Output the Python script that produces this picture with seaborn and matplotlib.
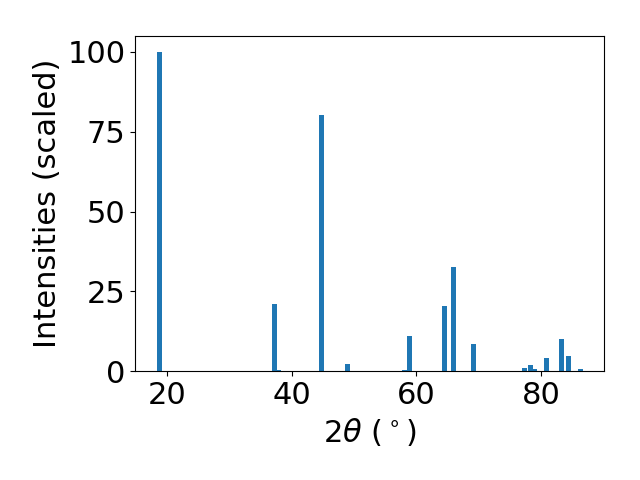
import matplotlib
matplotlib.use("Agg")
import matplotlib.pyplot as plt
import seaborn as sns

# XRD peak positions (2theta, degrees) and scaled intensities
two_theta = [18.75, 37.23, 37.95, 44.79, 48.97, 58.13, 58.94, 64.57, 66.00,
             69.20, 77.27, 78.23, 79.00, 80.80, 83.20, 84.40, 86.30]
intensity = [100.0, 21.0, 0.3, 80.3, 2.3, 0.3, 11.0, 20.4, 32.6,
             8.5, 1.0, 1.9, 0.6, 4.1, 10.0, 4.7, 0.6]

sns.set_style("ticks", rc={
    "axes.edgecolor": "black",
    "xtick.color": "black",
    "ytick.color": "black",
    "axes.labelcolor": "black",
    "text.color": "black",
})
plt.rcParams["font.family"] = ["DejaVu Sans"]
plt.rcParams["font.size"] = 22

fig, ax = plt.subplots(figsize=(6.4, 4.8), dpi=100)
ax.bar(two_theta, intensity, width=0.8, color="#1f77b4", linewidth=0)
ax.set_yticks([0, 25, 50, 75, 100])
ax.set_xticks([20, 40, 60, 80])
ax.set_xlabel(r"$2\theta$ ($^\circ$)")
ax.set_ylabel("Intensities (scaled)")
ax.tick_params(labelsize=22, length=3.5, width=0.8)
for sp in ax.spines.values():
    sp.set_linewidth(0.8)

fig.subplots_adjust(left=0.2114, right=0.9442, top=0.925, bottom=0.2265)
plt.savefig("out.png", dpi=100)
